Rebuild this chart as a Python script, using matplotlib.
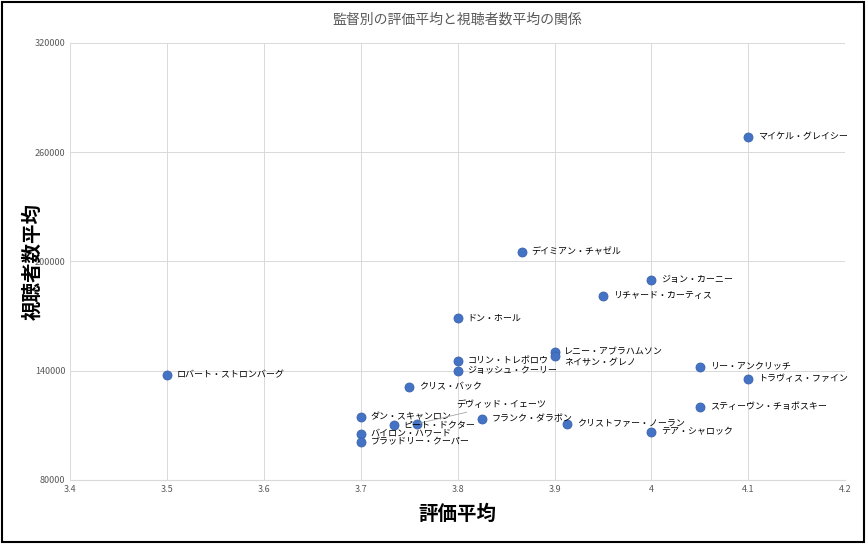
import matplotlib.pyplot as plt
from matplotlib.patches import Rectangle

plt.rcParams['font.family'] = ['Noto Sans CJK JP', 'DejaVu Sans']

# 監督ごとの評価平均と視聴者数平均
names = ['マイケル・グレイシー', 'デイミアン・チャゼル', 'ジョン・カーニー', 'リチャード・カーティス',
         'ドン・ホール', 'レニー・アブラハムソン', 'ネイサン・グレノ', 'コリン・トレボロウ',
         'ジョッシュ・クーリー', 'リー・アンクリッチ', 'トラヴィス・ファイン', 'ロバート・ストロンバーグ',
         'クリス・バック', 'スティーヴン・チョボスキー', 'ダン・スキャンロン', 'デヴィッド・イェーツ',
         'ピート・ドクター', 'フランク・ダラボン', 'クリストファー・ノーラン', 'テア・シャロック',
         'バイロン・ハワード', 'ブラッドリー・クーパー']
rating = [4.1, 3.866, 4.0, 3.95, 3.8, 3.9, 3.9, 3.8, 3.8, 4.05, 4.1, 3.5,
          3.75, 4.05, 3.7, 3.758, 3.734, 3.825, 3.913, 4.0, 3.7, 3.7]
viewers = [268400, 205200, 189800, 181000, 169000, 150300, 148100, 145400,
           139900, 142100, 135500, 137700, 131100, 120100, 114600, 110800,
           110200, 113500, 110800, 106400, 105300, 100900]

fig = plt.figure(figsize=(8.66, 5.44), dpi=100)
ax = fig.add_axes([0.081, 0.118, 0.895, 0.803])
ax.scatter(rating, viewers, s=42, color='#4472c4', edgecolors='#3a64ad', linewidths=0.6, zorder=3)

for n, x, y in zip(names, rating, viewers):
    if n == 'デヴィッド・イェーツ':
        ax.annotate(n, (x, y), xytext=(28, 14), textcoords='offset points', fontsize=6.5,
                    va='center', arrowprops=dict(arrowstyle='-', color='#a6a6a6', lw=0.6))
    elif n == 'ネイサン・グレノ':
        ax.annotate(n, (x, y), xytext=(7, -5), textcoords='offset points', fontsize=6.5, va='center')
    else:
        ax.annotate(n, (x, y), xytext=(7, 0), textcoords='offset points', fontsize=6.5, va='center')

ax.set_xlim(3.4, 4.2)
ax.set_ylim(80000, 320000)
ax.set_xticks([3.4 + 0.1 * i for i in range(9)])
ax.set_xticklabels(['3.4', '3.5', '3.6', '3.7', '3.8', '3.9', '4', '4.1', '4.2'])
ax.set_yticks([80000, 140000, 200000, 260000, 320000])
ax.set_yticklabels(['80000', '140000', '200000', '260000', '320000'])
ax.tick_params(labelsize=6.5, colors='#595959', length=0)
ax.grid(color='#d9d9d9', lw=0.7)
ax.set_axisbelow(True)
for s in ['top', 'right', 'left']:
    ax.spines[s].set_visible(False)
ax.spines['bottom'].set_color('#d9d9d9')

ax.set_title('監督別の評価平均と視聴者数平均の関係', fontsize=10, color='#595959', pad=14)
ax.set_xlabel('評価平均', fontsize=14, fontweight='bold', labelpad=8)
ax.set_ylabel('視聴者数平均', fontsize=14, fontweight='bold', labelpad=-6)

fig.patches.append(Rectangle((0.002, 0.004), 0.996, 0.992, transform=fig.transFigure,
                             fill=False, edgecolor='black', lw=1.5))
plt.savefig('out.png', dpi=100)
